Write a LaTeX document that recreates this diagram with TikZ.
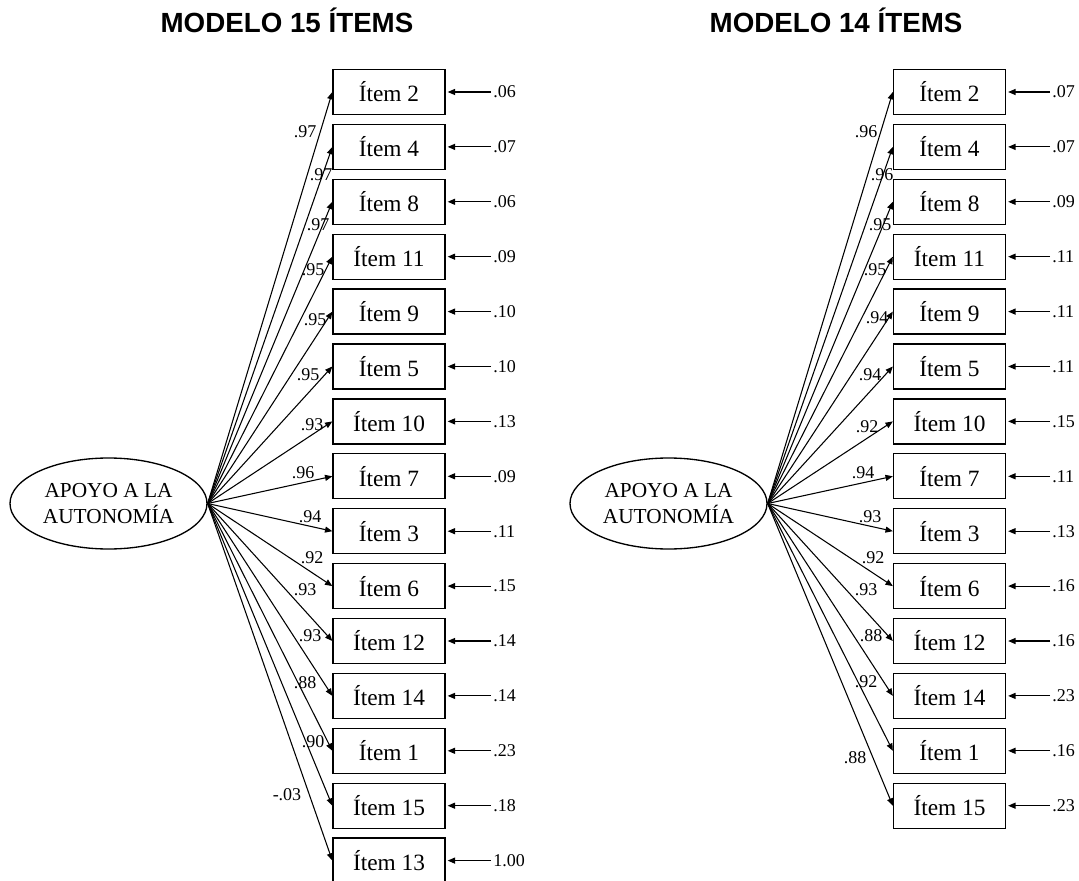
\documentclass[tikz,border=0pt]{standalone}
\usepackage{fontspec}
\setmainfont{Liberation Serif}
\newfontfamily\titlefont{Liberation Sans}
\usetikzlibrary{arrows.meta,shapes.geometric}

\tikzset{
	item/.style={draw, line width=1pt, minimum width=84pt, minimum height=33.75pt, inner sep=0pt, font=\fontsize{17.5}{19}\selectfont},
	latent/.style={draw, ellipse, line width=1pt, minimum width=147.75pt, minimum height=68.25pt, inner sep=0pt, align=center, font=\fontsize{16}{19}\selectfont},
	coef/.style={inner sep=0pt, font=\fontsize{13.5}{15}\selectfont},
	load/.style={-{Triangle[length=5.5pt,width=4.5pt]}, line width=0.8pt},
	heading/.style={anchor=base, inner sep=0pt, font=\titlefont\bfseries\fontsize{20.8}{24}\selectfont}
}

\begin{document}
\begin{tikzpicture}[x=0.75pt, y=-0.75pt]
	\useasboundingbox (0,0) rectangle (1079,881);

	% titulos
	\node[heading] (titL) at (287,33) {MODELO 15 ÍTEMS};
	\node[heading] (titR) at (836,33) {MODELO 14 ÍTEMS};

	% modelo 15 items
	\node[latent] (apoyoL) at (108.5,503.5) {APOYO A LA\\AUTONOMÍA};
	\foreach \nm/\er/\ld/\lx/\ly [count=\i from 0] in {2/.06/.97/305/132, 4/.07/.97/321/175, 8/.06/.97/318/225, 11/.09/.95/313/270, 9/.10/.95/315/320, 5/.10/.95/308/375, 10/.13/.93/312/425, 7/.09/.96/303/473, 3/.11/.94/310/517, 6/.15/.92/312/558, 12/.14/.93/305/590, 14/.14/.93/310/636, 1/.23/.88/305/683, 15/.18/.90/313/742, 13/1.00/-.03/287/795} {
		\node[item] (L\nm) at (389,{92+54.9*\i}) {Ítem \nm};
		\draw[load] (apoyoL.east) -- (L\nm.west);
		\coordinate (eL\nm) at (491,{92+54.9*\i});
		\draw[load] (eL\nm) -- ([xshift=1.5pt]L\nm.east);
		\node[coef, anchor=west] (rL\nm) at ([xshift=1.5pt]eL\nm) {\er};
		\node[coef] (cL\nm) at (\lx,\ly) {\ld};
	}

	% modelo 14 items
	\node[latent] (apoyoR) at (668.5,503.5) {APOYO A LA\\AUTONOMÍA};
	\foreach \nm/\er/\ld/\lx/\ly [count=\i from 0] in {2/.07/.96/866/132, 4/.07/.96/882/175, 8/.09/.95/880/225, 11/.11/.95/875/270, 9/.11/.94/877/318, 5/.11/.94/870/375, 10/.15/.92/867/427, 7/.11/.94/863/473, 3/.13/.93/870/517, 6/.16/.92/873/558, 12/.16/.93/866/590, 14/.23/.88/871/636, 1/.16/.92/866/682, 15/.23/.88/855/758} {
		\node[item] (R\nm) at (949.5,{92+54.9*\i}) {Ítem \nm};
		\draw[load] (apoyoR.east) -- (R\nm.west);
		\coordinate (eR\nm) at (1050,{92+54.9*\i});
		\draw[load] (eR\nm) -- ([xshift=1.5pt]R\nm.east);
		\node[coef, anchor=west] (rR\nm) at ([xshift=1.5pt]eR\nm) {\er};
		\node[coef] (cR\nm) at (\lx,\ly) {\ld};
	}
\end{tikzpicture}
\end{document}
